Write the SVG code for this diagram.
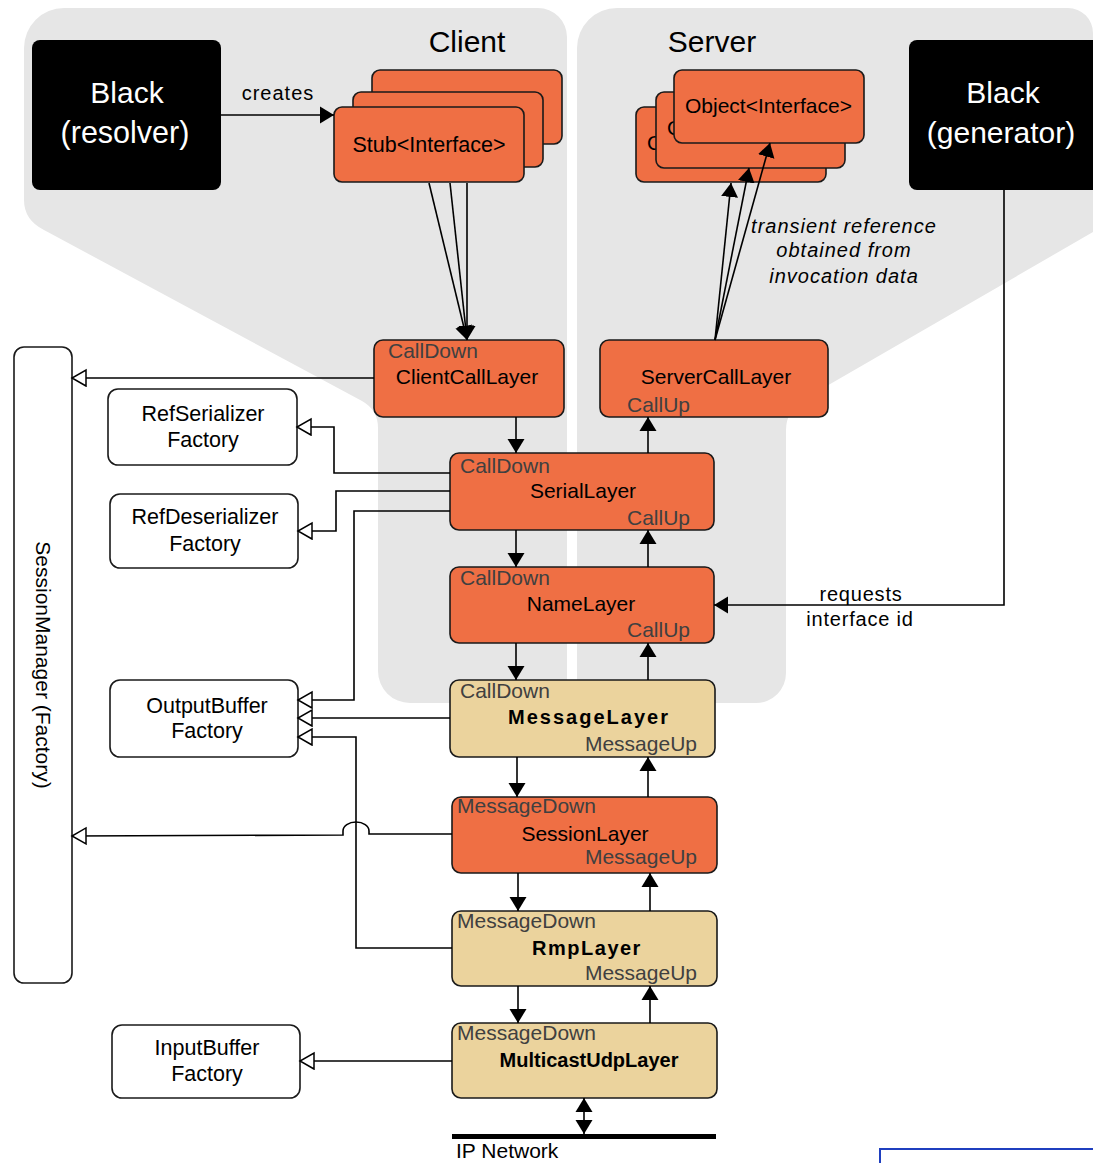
<svg xmlns="http://www.w3.org/2000/svg" width="1093" height="1163" viewBox="0 0 1093 1163">
<style>
.t{font-family:"Liberation Sans",Arial,sans-serif;fill:#000}
.bg{fill:#e6e6e6}
.org{fill:#ef6f44;stroke:#1a1a1a;stroke-width:1.6}
.tan{fill:#ebd39d;stroke:#1a1a1a;stroke-width:1.6}
.wht{fill:#fff;stroke:#1a1a1a;stroke-width:1.6}
.blk{fill:#000}
.sub{fill:#404040;font-size:21px}
.lab{font-size:21px}
.bold{font-size:20px;font-weight:bold}
.fac{font-size:21.5px}
.ln{stroke:#000;stroke-width:1.6;fill:none}
.fa{marker-end:url(#fill)}
.ha{marker-end:url(#hollow)}
</style>
<defs>
<marker id="fill" markerUnits="userSpaceOnUse" markerWidth="16" markerHeight="20" refX="14" refY="9" orient="auto-start-reverse">
<path d="M0,0.5 L14,9 L0,17.5 Z" fill="#000"/>
</marker>
<marker id="hollow" markerUnits="userSpaceOnUse" markerWidth="18" markerHeight="20" refX="15" refY="9" orient="auto">
<path d="M1,1 L15,9 L1,17 Z" fill="#fff" stroke="#000" stroke-width="1.5"/>
</marker>
</defs>
<rect width="1093" height="1163" fill="#fff"/>
<g id="regions">
<path class="bg" d="M24 48 A40 40 0 0 1 64 8 L538 8 A29 29 0 0 1 567 37 L567 692 A11 11 0 0 1 556 703 L410 703 A32 32 0 0 1 378 671 L378 428 Q378 410 362 401 L44 230 Q24 220 24 200 Z"/>
<path class="bg" d="M577 48 A40 40 0 0 1 617 8 L1068 8 A25 25 0 0 1 1093 33 L1093 232 L806 398 Q786 410 786 430 L786 673 A30 30 0 0 1 756 703 L588 703 A11 11 0 0 1 577 692 Z"/>
<text class="t" x="467" y="52" font-size="30" text-anchor="middle">Client</text>
<text class="t" x="712" y="52" font-size="30" text-anchor="middle">Server</text>
</g>
<g id="resolver">
<rect class="blk" x="32" y="40" width="189" height="150" rx="8"/>
<text class="t" x="127" y="103" font-size="30" style="fill:#fff" text-anchor="middle">Black</text>
<text class="t" x="125" y="143" font-size="30.5" style="fill:#fff" text-anchor="middle">(resolver)</text>
</g>
<g id="generator">
<rect class="blk" x="909" y="40" width="210" height="150" rx="8"/>
<text class="t" x="1003" y="103" font-size="30" style="fill:#fff" text-anchor="middle">Black</text>
<text class="t" x="1001" y="143" font-size="30" style="fill:#fff" text-anchor="middle">(generator)</text>
</g>
<g id="stubs">
<rect class="org" x="372" y="70" width="190" height="74" rx="8"/>
<rect class="org" x="353" y="92" width="190" height="75" rx="8"/>
<rect class="org" x="334" y="107" width="190" height="75" rx="8"/>
<text class="t" x="429" y="152" font-size="21.5" text-anchor="middle">Stub&lt;Interface&gt;</text>
</g>
<g id="objects">
<rect class="org" x="636" y="107" width="190" height="75" rx="8"/>
<text class="t" x="647" y="150" font-size="21">O</text>
<rect class="org" x="656" y="92" width="189" height="76" rx="8"/>
<text class="t" x="667" y="135" font-size="21">O</text>
<rect class="org" x="674" y="70" width="190" height="73" rx="8"/>
<text class="t" x="685" y="113" font-size="21">Object&lt;Interface&gt;</text>
</g>
<g id="clientcalllayer">
<rect class="org" x="374" y="340" width="190" height="77" rx="9"/>
<text class="t sub" x="388" y="358">CallDown</text>
<text class="t lab" x="467" y="384" text-anchor="middle">ClientCallLayer</text>
</g>
<g id="servercalllayer">
<rect class="org" x="600" y="340" width="228" height="77" rx="9"/>
<text class="t lab" x="716" y="384" text-anchor="middle">ServerCallLayer</text>
<text class="t sub" x="627" y="412">CallUp</text>
</g>
<g id="seriallayer">
<rect class="org" x="450" y="453" width="264" height="77" rx="9"/>
<text class="t sub" x="460" y="473">CallDown</text>
<text class="t lab" x="583" y="498" text-anchor="middle">SerialLayer</text>
<text class="t sub" x="627" y="525">CallUp</text>
</g>
<g id="namelayer">
<rect class="org" x="450" y="567" width="264" height="76" rx="9"/>
<text class="t sub" x="460" y="585">CallDown</text>
<text class="t lab" x="581" y="611" text-anchor="middle">NameLayer</text>
<text class="t sub" x="627" y="637">CallUp</text>
</g>
<g id="messagelayer">
<rect class="tan" x="450" y="680" width="265" height="77" rx="9"/>
<text class="t sub" x="460" y="698">CallDown</text>
<text class="t bold" x="589" y="724" letter-spacing="2" text-anchor="middle">MessageLayer</text>
<text class="t sub" x="697" y="751" text-anchor="end">MessageUp</text>
</g>
<g id="sessionlayer">
<rect class="org" x="452" y="797" width="265" height="76" rx="9"/>
<text class="t sub" x="457" y="813">MessageDown</text>
<text class="t lab" x="585" y="841" text-anchor="middle">SessionLayer</text>
<text class="t sub" x="697" y="864" text-anchor="end">MessageUp</text>
</g>
<g id="rmplayer">
<rect class="tan" x="452" y="911" width="265" height="75" rx="9"/>
<text class="t sub" x="457" y="928">MessageDown</text>
<text class="t bold" x="587" y="955" letter-spacing="1.5" text-anchor="middle">RmpLayer</text>
<text class="t sub" x="697" y="980" text-anchor="end">MessageUp</text>
</g>
<g id="multicastudplayer">
<rect class="tan" x="452" y="1023" width="265" height="75" rx="9"/>
<text class="t sub" x="457" y="1040">MessageDown</text>
<text class="t bold" x="589" y="1067" text-anchor="middle">MulticastUdpLayer</text>
</g>
<g id="ipnetwork">
<rect x="452" y="1134" width="264" height="5" fill="#000"/>
<text class="t" x="456" y="1158" font-size="21">IP Network</text>
</g>
<g id="sessionmanager">
<rect class="wht" x="14" y="347" width="58" height="636" rx="10"/>
<text class="t" transform="translate(36,665) rotate(90)" font-size="21" text-anchor="middle">SessionManager (Factory)</text>
</g>
<g id="refserializerfactory">
<rect class="wht" x="108" y="389" width="189" height="76" rx="10"/>
<text class="t fac" text-anchor="middle"><tspan x="203" y="421">RefSerializer</tspan><tspan x="203" y="447">Factory</tspan></text>
</g>
<g id="refdeserializerfactory">
<rect class="wht" x="110" y="494" width="188" height="74" rx="10"/>
<text class="t fac" text-anchor="middle"><tspan x="205" y="524">RefDeserializer</tspan><tspan x="205" y="551">Factory</tspan></text>
</g>
<g id="outputbufferfactory">
<rect class="wht" x="110" y="680" width="188" height="77" rx="10"/>
<text class="t fac" text-anchor="middle"><tspan x="207" y="713">OutputBuffer</tspan><tspan x="207" y="738">Factory</tspan></text>
</g>
<g id="inputbufferfactory">
<rect class="wht" x="112" y="1025" width="188" height="73" rx="10"/>
<text class="t fac" text-anchor="middle"><tspan x="207" y="1055">InputBuffer</tspan><tspan x="207" y="1081">Factory</tspan></text>
</g>
<g id="connectors">
<path class="ln fa" d="M221 115 H334"/>
<text class="t" x="278" y="100" font-size="20" letter-spacing="1" text-anchor="middle">creates</text>
<path class="ln fa" d="M429 183 L467 340"/>
<path class="ln fa" d="M450 183 L467 340"/>
<path class="ln fa" d="M467 183 L467 340"/>
<path class="ln fa" d="M715 340 L731 183"/>
<path class="ln fa" d="M715 340 L749 168"/>
<path class="ln fa" d="M715 340 L770 143"/>
<text class="t" font-size="20" font-style="italic" letter-spacing="1" text-anchor="middle"><tspan x="844" y="233">transient reference</tspan><tspan x="844" y="257">obtained from</tspan><tspan x="844" y="283">invocation data</tspan></text>
<path class="ln fa" d="M516 417 V453"/>
<path class="ln fa" d="M648 453 V417"/>
<path class="ln fa" d="M516 530 V567"/>
<path class="ln fa" d="M648 567 V530"/>
<path class="ln fa" d="M516 643 V680"/>
<path class="ln fa" d="M648 680 V643"/>
<path class="ln fa" d="M517 757 V797"/>
<path class="ln fa" d="M648 797 V757"/>
<path class="ln fa" d="M518 873 V911"/>
<path class="ln fa" d="M650 911 V873"/>
<path class="ln fa" d="M518 986 V1023"/>
<path class="ln fa" d="M650 1023 V986"/>
<path class="ln" d="M584 1098 V1134" marker-start="url(#fill)" marker-end="url(#fill)"/>
<path class="ln fa" d="M1004 190 V605 H714"/>
<text class="t" font-size="20" letter-spacing="0.8" text-anchor="middle"><tspan x="861" y="601">requests</tspan><tspan x="860" y="626">interface id</tspan></text>
<path class="ln ha" d="M374 378 H72"/>
<path class="ln ha" d="M450 473 H334 V427 H297"/>
<path class="ln ha" d="M450 491 H336 V531 H298"/>
<path class="ln ha" d="M450 511 H354 V700 H298"/>
<path class="ln ha" d="M450 718 H298"/>
<path class="ln ha" d="M452 948 H356 V737 H298"/>
<path class="ln ha" d="M452 834 H369 V831 A13 9 0 0 0 343 831 V835 L72 836"/>
<path class="ln ha" d="M452 1061 H300"/>
</g>
<rect x="880" y="1149" width="240" height="40" fill="none" stroke="#1f3fbf" stroke-width="2"/>
</svg>
